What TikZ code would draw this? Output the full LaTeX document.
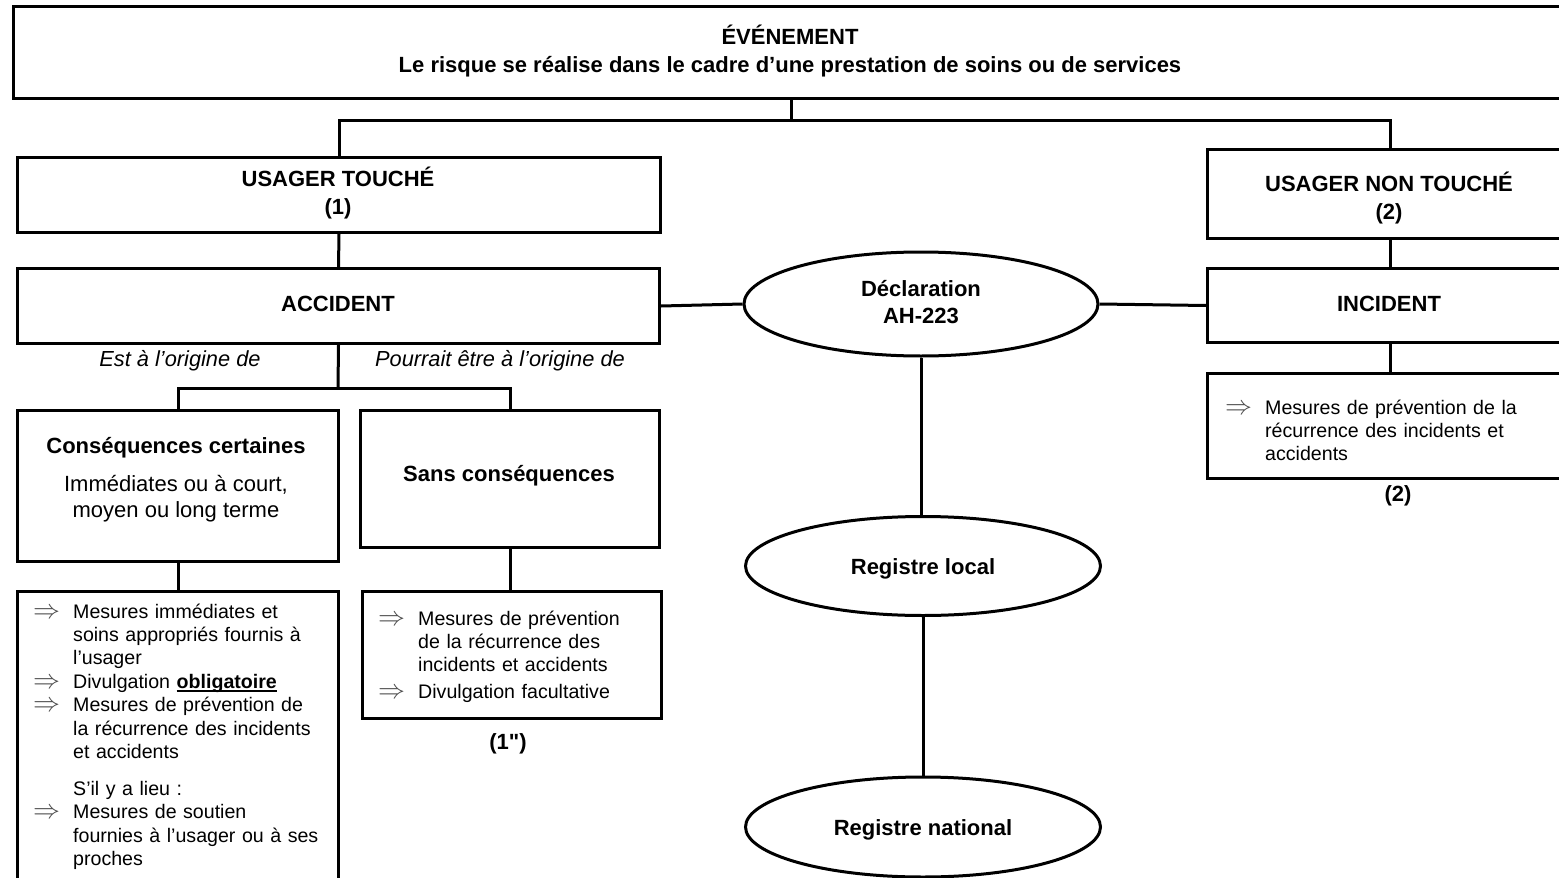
\documentclass[tikz,border=0pt]{standalone}
\usepackage{fontspec}
\usepackage{graphicx}
\setmainfont{Liberation Sans}[Ligatures=TeXOff]
\usetikzlibrary{shapes.geometric}
\newcommand{\arr}{\makebox[40pt][l]{\textcolor{black!70}{\scalebox{1.3}{$\Rightarrow$}}}}
\newcommand{\ind}{\hspace*{40pt}}
\newsavebox\ulbox
\newcommand{\ulin}[1]{\sbox\ulbox{#1}\usebox\ulbox\llap{\rule[-3.5pt]{\wd\ulbox}{1.6pt}}}
\begin{document}
\begin{tikzpicture}[x=1pt,y=-1pt,
  box/.style={draw,line width=3pt,rectangle,inner sep=0pt,anchor=north west},
  oval/.style={draw,line width=3pt,ellipse,inner sep=0pt,minimum width=354pt,minimum height=102pt},
  conn/.style={line width=3pt},
  lab/.style={font=\fontsize{22}{28}\selectfont\bfseries,align=center,inner sep=0pt,anchor=base},
  itl/.style={font=\fontsize{21.8}{23}\selectfont\itshape,inner sep=0pt,anchor=base},
  txt/.style={font=\fontsize{19.6}{23.4}\selectfont,inner sep=0pt,anchor=base west,text width=320pt,align=left},
  ctxt/.style={font=\fontsize{22}{26}\selectfont,inner sep=0pt,anchor=base,align=center}
]
\clip (0,0) rectangle (1559,878);
% boxes
\node[box,minimum width=1559pt,minimum height=92pt] (top) at (12,5) {};
\node[box,minimum width=643pt,minimum height=75pt] (ut) at (16,156) {};
\node[box,minimum width=642pt,minimum height=75pt] (acc) at (16,267) {};
\node[box,minimum width=321pt,minimum height=151pt] (cc) at (16,409) {};
\node[box,minimum width=299pt,minimum height=137pt] (sc) at (359,409) {};
\node[box,minimum width=321pt,minimum height=290pt] (ll) at (16,590) {};
\node[box,minimum width=299pt,minimum height=127pt] (ml) at (361,590) {};
\node[box,minimum width=365pt,minimum height=89pt] (unt) at (1206,148) {};
\node[box,minimum width=365pt,minimum height=74pt] (inc) at (1206,267) {};
\node[box,minimum width=365pt,minimum height=105pt] (rl) at (1206,372) {};
% ellipses
\node[oval,minimum height=104pt] (decl) at (921,304) {};
\node[oval,minimum width=355pt,minimum height=99pt] (reg) at (923,566) {};
\node[oval,minimum width=355pt,minimum height=100pt] (nat) at (923,827) {};
% junctions
\coordinate (j1) at (791,120);
\coordinate (j2) at (338,388);
% connectors
\draw[conn] (j1 |- top.south) -- (j1);
\draw[conn] (ut.north) |- (j1) -| (unt.north);
\draw[conn] (ut.south) -- (acc.north);
\draw[conn] (acc.south) -- (j2);
\draw[conn] (cc.north) |- (j2) -| (sc.north);
\draw[conn] (cc.south) -- (cc.south |- ll.north);
\draw[conn] (sc.south) -- (sc.south |- ml.north);
\draw[conn] (unt.south) -- (unt.south |- inc.north);
\draw[conn] (inc.south) -- (inc.south |- rl.north);
\draw[conn] (acc.east) -- (decl.west);
\draw[conn] (decl.east) -- (inc.west);
\draw[conn] (decl.south) -- (decl.south |- reg.north);
\draw[conn] (reg.south) -- (reg.south |- nat.north);
% texts
\node[lab] (t1) at (790,45) {ÉVÉNEMENT};
\node[lab] (t2) at (790,72) {Le risque se réalise dans le cadre d’une prestation de soins ou de services};
\node[lab] (t3) at (338,214) {USAGER TOUCHÉ\\(1)};
\node[lab] (t4) at (338,311) {ACCIDENT};
\node[itl] (t5) at (180,366) {Est à l’origine de};
\node[itl] (t6) at (500,366) {Pourrait être à l’origine de};
\node[lab] (t7) at (176,453) {Conséquences certaines};
\node[ctxt] (t8) at (176,517) {Immédiates ou à court,\\moyen ou long terme};
\node[lab] (t9) at (509,481) {Sans conséquences};
\node[txt] (t10) at (33,618) {\arr Mesures immédiates et\\\ind soins appropriés fournis à\\\ind l’usager\\\arr Divulgation \ulin{\textbf{obligatoire}}\\\arr Mesures de prévention de\\\ind la récurrence des incidents\\\ind et accidents\\[13.6pt]\ind S’il y a lieu :\\\arr Mesures de soutien\\\ind fournies à l’usager ou à ses\\\ind proches};
\node[txt] (t11) at (378,625) {\arr Mesures de prévention\\\ind de la récurrence des\\\ind incidents et accidents\\[3pt]\arr Divulgation facultative};
\node[lab] (t12) at (508,749) {(1")};
\node[lab,font=\fontsize{22}{27}\selectfont\bfseries] (t13) at (921,323) {Déclaration\\AH-223};
\node[lab] (t14) at (923,574) {Registre local};
\node[lab] (t15) at (923,835) {Registre national};
\node[lab] (t16) at (1389,219) {USAGER NON TOUCHÉ\\(2)};
\node[lab] (t17) at (1389,311) {INCIDENT};
\node[txt] (t18) at (1225,414) {\arr Mesures de prévention de la\\\ind récurrence des incidents et\\\ind accidents};
\node[lab] (t19) at (1398,501) {(2)};
\end{tikzpicture}
\end{document}
